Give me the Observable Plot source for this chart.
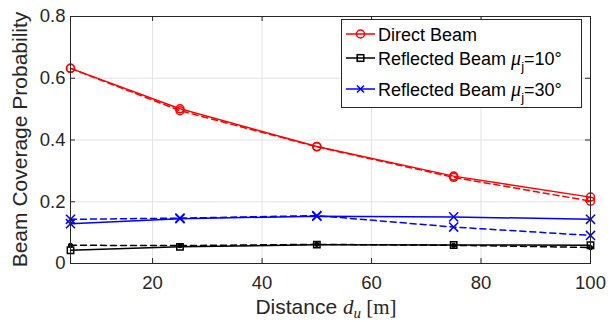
<!DOCTYPE html>
<html>
<head>
<meta charset="utf-8">
<script src="https://cdn.jsdelivr.net/npm/d3@7"></script>
<script src="https://cdn.jsdelivr.net/npm/@observablehq/plot@0.6"></script>
<style>
  html, body { margin: 0; padding: 0; background: #fff; }
  #chart svg { display: block; }
</style>
</head>
<body>
<div id="chart"></div>
<script>
// ---- Data ----
const distances = [5, 25, 50, 75, 100];
const directSolid   = [0.632, 0.501, 0.379, 0.283, 0.215];
const directDashed  = [0.632, 0.495, 0.378, 0.279, 0.202];
const refl10Solid   = [0.043, 0.054, 0.061, 0.060, 0.059];
const refl10Dashed  = [0.059, 0.058, 0.062, 0.059, 0.052];
const refl30Solid   = [0.129, 0.145, 0.153, 0.151, 0.143];
const refl30Dashed  = [0.143, 0.147, 0.155, 0.118, 0.091];
const xTicks = [20, 40, 60, 80, 100];
const yTicks = [0, 0.2, 0.4, 0.6, 0.8];
const xLabelParts = ["Distance ", "d", "u", " [m]"];
const yLabel = "Beam Coverage Probability";
const legendItems = [
  {name: "Direct Beam", color: "#ff0000", symbol: "circle"},
  {name: "Reflected Beam ", mu: "10°", color: "#000000", symbol: "square"},
  {name: "Reflected Beam ", mu: "30°", color: "#0000ff", symbol: "times"}
];

const rows = (ys) => distances.map((x, i) => ({x, y: ys[i]}));

const W = 615, H = 322;
const mL = 70, mR = 25, mT = 16, mB = 59;
const frameH = H - mT - mB, frameW = W - mL - mR;
const axisColor = "#262626";
const gridColor = "#e3e3e3";
const font = "'Liberation Sans', Arial, Helvetica, sans-serif";
const serif = "'Liberation Serif', 'DejaVu Serif', serif";

function series(ys, color, dashed, symbol, r, fill) {
  return [
    Plot.line(rows(ys), {x: "x", y: "y", stroke: color, strokeWidth: 1.5,
      strokeDasharray: dashed ? "6,4" : null}),
    Plot.dot(rows(ys), {x: "x", y: "y", stroke: color, strokeWidth: 1.5,
      symbol, r, fill: fill ? color : "none"})
  ];
}

const plot = Plot.plot({
  width: W, height: H,
  marginLeft: mL, marginRight: mR, marginTop: mT, marginBottom: mB,
  x: {domain: [5, 100]},
  y: {domain: [0, 0.8]},
  style: {fontFamily: font, fontSize: "18.5px", color: axisColor, background: "#fff"},
  marks: [
    Plot.ruleX(xTicks, {stroke: gridColor, strokeWidth: 1}),
    Plot.ruleY(yTicks, {stroke: gridColor, strokeWidth: 1}),
    // inward ticks (bottom/top, left/right)
    Plot.ruleX(xTicks, {stroke: axisColor, insetTop: frameH - 5}),
    Plot.ruleX(xTicks, {stroke: axisColor, insetBottom: frameH - 5}),
    Plot.ruleY(yTicks, {stroke: axisColor, insetRight: frameW - 5}),
    Plot.ruleY(yTicks, {stroke: axisColor, insetLeft: frameW - 5}),
    Plot.axisX(xTicks, {tickSize: 0, tickPadding: 12, label: null, fontSize: 18.5}),
    Plot.axisY(yTicks, {tickSize: 0, tickPadding: 5, label: null, fontSize: 18.5,
      tickFormat: d => d === 0 ? "0" : d.toFixed(1)}),
    ...series(directDashed, "#ff0000", true, "circle", 4, false),
    ...series(refl10Dashed, "#000000", true, "circle", 1.8, true),
    ...series(refl30Dashed, "#0000ff", true, "times", 4.2, false),
    ...series(directSolid, "#ff0000", false, "circle", 4, false),
    ...series(refl10Solid, "#000000", false, "square", 3.6, false),
    ...series(refl30Solid, "#0000ff", false, "times", 4.2, false),
    Plot.frame({stroke: axisColor, strokeWidth: 1})
  ]
});

document.getElementById("chart").appendChild(plot);

// ---- Labels & legend (rich text) ----
const svg = d3.select(plot);

// y label
svg.append("text")
  .attr("transform", `translate(27,${mT + frameH / 2}) rotate(-90)`)
  .attr("text-anchor", "middle")
  .attr("font-family", font).attr("font-size", 21).attr("fill", axisColor)
  .text(yLabel);

// x label
const xl = svg.append("text")
  .attr("x", mL + frameW / 2 - 4).attr("y", 314)
  .attr("text-anchor", "middle")
  .attr("font-family", font).attr("font-size", 21).attr("fill", axisColor);
xl.append("tspan").text(xLabelParts[0]);
xl.append("tspan").attr("font-family", serif)
  .attr("font-style", "italic").text(xLabelParts[1]);
xl.append("tspan").attr("font-family", serif)
  .attr("font-style", "italic").attr("font-size", 15).attr("dy", 4).text(xLabelParts[2]);
xl.append("tspan").attr("font-family", serif).attr("dy", -4)
  .text(xLabelParts[3]);

// legend
const lg = svg.append("g").attr("font-family", font).attr("font-size", 18)
  .attr("text-anchor", "start");
lg.append("rect").attr("x", 341.5).attr("y", 19.5).attr("width", 240).attr("height", 88)
  .attr("fill", "#fff").attr("stroke", axisColor).attr("stroke-width", 1);
const rowY = [34, 58, 89];
legendItems.forEach((it, i) => {
  const y = rowY[i];
  lg.append("line").attr("x1", 346).attr("x2", 375).attr("y1", y).attr("y2", y)
    .attr("stroke", it.color).attr("stroke-width", 1.5);
  const cx = 360.5;
  if (it.symbol === "circle") {
    lg.append("circle").attr("cx", cx).attr("cy", y).attr("r", 4)
      .attr("fill", "none").attr("stroke", it.color).attr("stroke-width", 1.5);
  } else if (it.symbol === "square") {
    lg.append("rect").attr("x", cx - 3.3).attr("y", y - 3.3).attr("width", 6.6).attr("height", 6.6)
      .attr("fill", "none").attr("stroke", it.color).attr("stroke-width", 1.5);
  } else {
    lg.append("path").attr("d", `M${cx-3.5},${y-3.5}L${cx+3.5},${y+3.5}M${cx-3.5},${y+3.5}L${cx+3.5},${y-3.5}`)
      .attr("stroke", it.color).attr("stroke-width", 1.5);
  }
  const t = lg.append("text").attr("x", 378).attr("y", y + 6.5).attr("fill", "#000");
  t.append("tspan").text(it.name);
  if (it.mu) {
    t.append("tspan").attr("font-family", serif)
      .attr("font-style", "italic").attr("font-size", 20).text("μ");
    t.append("tspan").attr("font-size", 13).attr("dy", 6).text("j");
    t.append("tspan").attr("dy", -6).text("=" + it.mu);
  }
});
</script>
</body>
</html>
